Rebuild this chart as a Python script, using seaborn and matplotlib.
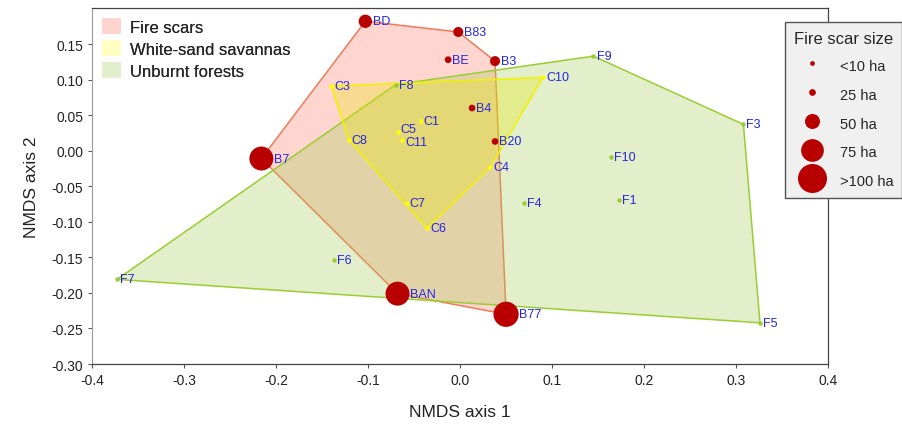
# NMDS ordination of fire scars, white-sand savannas and unburnt forests
import numpy as np
import matplotlib.pyplot as plt
import seaborn as sns
from matplotlib.patches import Polygon, Patch
from matplotlib.lines import Line2D
from matplotlib.colors import to_rgba

# Data
fire_sites = ["BD", "B83", "BE", "B3", "B4", "B20", "B7", "BAN", "B77"]
fire_x = [-0.103, -0.002, -0.013, 0.038, 0.013, 0.038, -0.216, -0.068, 0.050]
fire_y = [0.182, 0.167, 0.128, 0.126, 0.060, 0.013, -0.011, -0.201, -0.230]
fire_ha = [45, 35, 25, 35, 25, 25, 80, 80, 85]

savanna_sites = ["C3", "C8", "C10", "C1", "C5", "C11", "C4", "C7", "C6"]
savanna_x = [-0.140, -0.121, 0.090, -0.043, -0.068, -0.063, 0.033, -0.058, -0.036]
savanna_y = [0.091, 0.015, 0.103, 0.042, 0.026, 0.015, -0.023, -0.074, -0.109]

forest_sites = ["F8", "F9", "F3", "F10", "F4", "F1", "F5", "F6", "F7"]
forest_x = [-0.070, 0.145, 0.308, 0.164, 0.069, 0.173, 0.326, -0.137, -0.373]
forest_y = [0.093, 0.133, 0.037, -0.009, -0.074, -0.069, -0.242, -0.154, -0.181]

group_labels = ["Fire scars", "White-sand savannas", "Unburnt forests"]
size_legend_ha = [5, 25, 50, 75, 100]
size_legend_labels = ["<10 ha", "25 ha", "50 ha", "75 ha", ">100 ha"]

x_ticks = [-0.4, -0.3, -0.2, -0.1, 0.0, 0.1, 0.2, 0.3, 0.4]
y_ticks = [-0.30, -0.25, -0.20, -0.15, -0.10, -0.05, 0.00, 0.05, 0.10, 0.15]

# Styles
PX = 0.72  # points per pixel at dpi 100
size_ref_ha = [5, 25, 50, 75, 100]
size_ref_px = [4.7, 6.7, 15, 22.7, 29]  # marker diameter in px


def diam_pt(ha):
    return np.interp(ha, size_ref_ha, size_ref_px) * PX


def convex_hull(xs, ys):
    pts = sorted(zip(xs, ys))

    def cross(o, a, b):
        return (a[0] - o[0]) * (b[1] - o[1]) - (a[1] - o[1]) * (b[0] - o[0])

    lower, upper = [], []
    for p in pts:
        while len(lower) >= 2 and cross(lower[-2], lower[-1], p) <= 0:
            lower.pop()
        lower.append(p)
    for p in reversed(pts):
        while len(upper) >= 2 and cross(upper[-2], upper[-1], p) <= 0:
            upper.pop()
        upper.append(p)
    return np.array(lower[:-1] + upper[:-1])


sns.set_style("ticks")
plt.rcParams['font.family'] = ['Liberation Sans', 'DejaVu Sans']

fig = plt.figure(figsize=(9.03, 4.31), dpi=100)
ax = fig.add_axes([0.102, 0.153, 0.815, 0.825])

fill_cols = {"Fire scars": ("#ff7662", 0.30, "#f07a5a"),
             "White-sand savannas": ("#e8e800", 0.30, "#f2f200"),
             "Unburnt forests": ("#a2cc50", 0.30, "#9acd32")}
legend_cols = {"Fire scars": "#ffd3ce",
               "White-sand savannas": "#ffffc2",
               "Unburnt forests": "#e2efcc"}

# red first, green over it, yellow on top
groups = [("Fire scars", fire_x, fire_y),
          ("Unburnt forests", forest_x, forest_y),
          ("White-sand savannas", savanna_x, savanna_y)]
for z, (name, xs, ys) in enumerate(groups):
    fc, a, ec = fill_cols[name]
    h = convex_hull(xs, ys)
    ax.add_patch(Polygon(h, closed=True, facecolor=to_rgba(fc, a),
                         edgecolor=ec, lw=1.1, zorder=1 + z))

# points
sns.scatterplot(x=forest_x, y=forest_y, s=(4.5 * PX) ** 2, color="#9acd32",
                linewidth=0, ax=ax, zorder=5)
sns.scatterplot(x=savanna_x, y=savanna_y, s=(4.5 * PX) ** 2, color="#ffff00",
                linewidth=0, ax=ax, zorder=5)
fire_d = diam_pt(fire_ha)
sns.scatterplot(x=fire_x, y=fire_y, s=fire_d ** 2, color="#b80000",
                linewidth=0, ax=ax, zorder=6)

lab_kw = dict(textcoords="offset points", va="center", ha="left",
              color="#2626e0", fontsize=9, zorder=7)
for s, x, y in zip(forest_sites, forest_x, forest_y):
    ax.annotate(s, (x, y), xytext=(2.2, 0), **lab_kw)
for s, x, y in zip(savanna_sites, savanna_x, savanna_y):
    dy = 2 if s == "C5" else (-1.5 if s == "C11" else 0)
    ax.annotate(s, (x, y), xytext=(2.2, dy), **lab_kw)
for s, x, y, d in zip(fire_sites, fire_x, fire_y, fire_d):
    ax.annotate(s, (x, y), xytext=(d / 2 + 0.5, 0), **lab_kw)

ax.set_xlim(-0.4, 0.4)
ax.set_ylim(-0.30, 0.20)
ax.set_xticks(x_ticks)
ax.set_xticklabels([f"{v:.1f}" for v in x_ticks])
ax.set_yticks(y_ticks)
ax.set_yticklabels([f"{v:.2f}" for v in y_ticks])
ax.tick_params(labelsize=10, length=3, width=0.8, colors="#555555",
               labelcolor="#222222")
ax.set_xlabel("NMDS axis 1", fontsize=12.5, labelpad=12, color="#222222")
ax.set_ylabel("NMDS axis 2", fontsize=12.5, labelpad=9, color="#222222")
for side in ["top", "right", "bottom"]:
    ax.spines[side].set_color("#444444")
    ax.spines[side].set_linewidth(0.9)
ax.spines["left"].set_color("#999999")

# group legend
handles = [Patch(facecolor=legend_cols[g], edgecolor="none")
           for g in group_labels]
leg1 = ax.legend(handles, group_labels, loc="upper left", frameon=False,
                 fontsize=12, handlelength=1.15, handleheight=1.1,
                 handletextpad=0.55, labelspacing=0.32, borderpad=0.4,
                 borderaxespad=0.2)
ax.add_artist(leg1)

# size legend
size_handles = [Line2D([], [], marker="o", ls="", color="#b80000",
                       markeredgewidth=0, markersize=diam_pt(h))
                for h in size_legend_ha]
leg2 = fig.legend(size_handles, size_legend_labels, loc="upper left",
                  bbox_to_anchor=(0.869, 0.947), bbox_transform=fig.transFigure,
                  title="Fire scar size", title_fontsize=12, fontsize=10.5,
                  handlelength=2.6, handleheight=1.5, handletextpad=0.6,
                  labelspacing=0.75, borderpad=0.6, borderaxespad=0,
                  fancybox=False, frameon=True, facecolor="#f0f0f0",
                  edgecolor="#555555", framealpha=1)
leg2.get_frame().set_linewidth(1.0)

fig.savefig("out.png", dpi=100)
